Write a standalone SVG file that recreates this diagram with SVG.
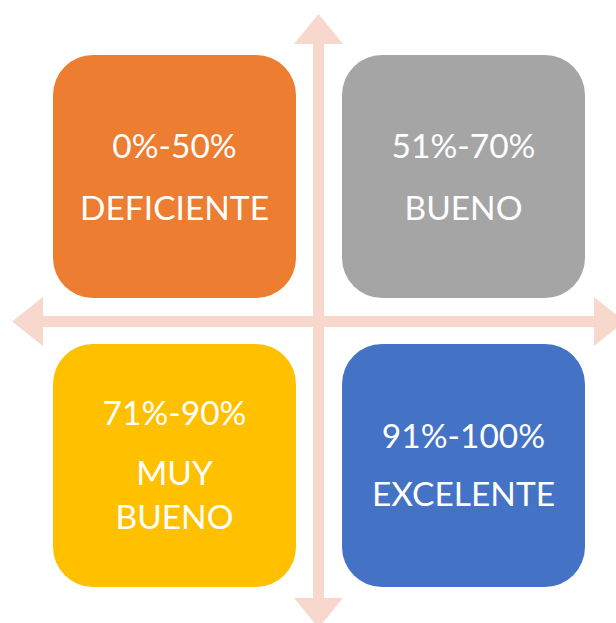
<svg xmlns="http://www.w3.org/2000/svg" width="616" height="623" viewBox="0 0 616 623">
  <style>
    .arrow { fill: #F8D7CD; }
    .lbl { font-family: Lato, "Liberation Sans", sans-serif; font-size: 33.5px; fill: #FFFFFF; text-anchor: middle; }
  </style>
  <rect width="616" height="623" fill="#FFFFFF"/>
  <g id="connectors">
    <polygon class="arrow" points="313,44 294,44 318.5,14 343,44 324,44 324,598 343,598 318.5,628 294,598 313,598"/>
    <polygon class="arrow" points="43,316 43,297 12,321.5 43,346 43,327 594,327 594,346 625,321.5 594,297 594,316"/>
  </g>
  <g id="deficiente">
    <rect x="53" y="55" width="243" height="243" rx="40" fill="#ED7D31"/>
    <text class="lbl" x="174.5" y="158">0%-50%</text>
    <text class="lbl" x="174.5" y="220">DEFICIENTE</text>
  </g>
  <g id="bueno">
    <rect x="342" y="55" width="243" height="243" rx="40" fill="#A5A5A5"/>
    <text class="lbl" x="463.5" y="158">51%-70%</text>
    <text class="lbl" x="463.5" y="220">BUENO</text>
  </g>
  <g id="muy-bueno">
    <rect x="53" y="344" width="243" height="243" rx="40" fill="#FFC000"/>
    <text class="lbl" x="174.5" y="425">71%-90%</text>
    <text class="lbl" x="174.5" y="485">MUY</text>
    <text class="lbl" x="174.5" y="529">BUENO</text>
  </g>
  <g id="excelente">
    <rect x="342" y="344" width="243" height="243" rx="40" fill="#4472C4"/>
    <text class="lbl" x="463.5" y="448">91%-100%</text>
    <text class="lbl" x="463.5" y="506">EXCELENTE</text>
  </g>
</svg>
